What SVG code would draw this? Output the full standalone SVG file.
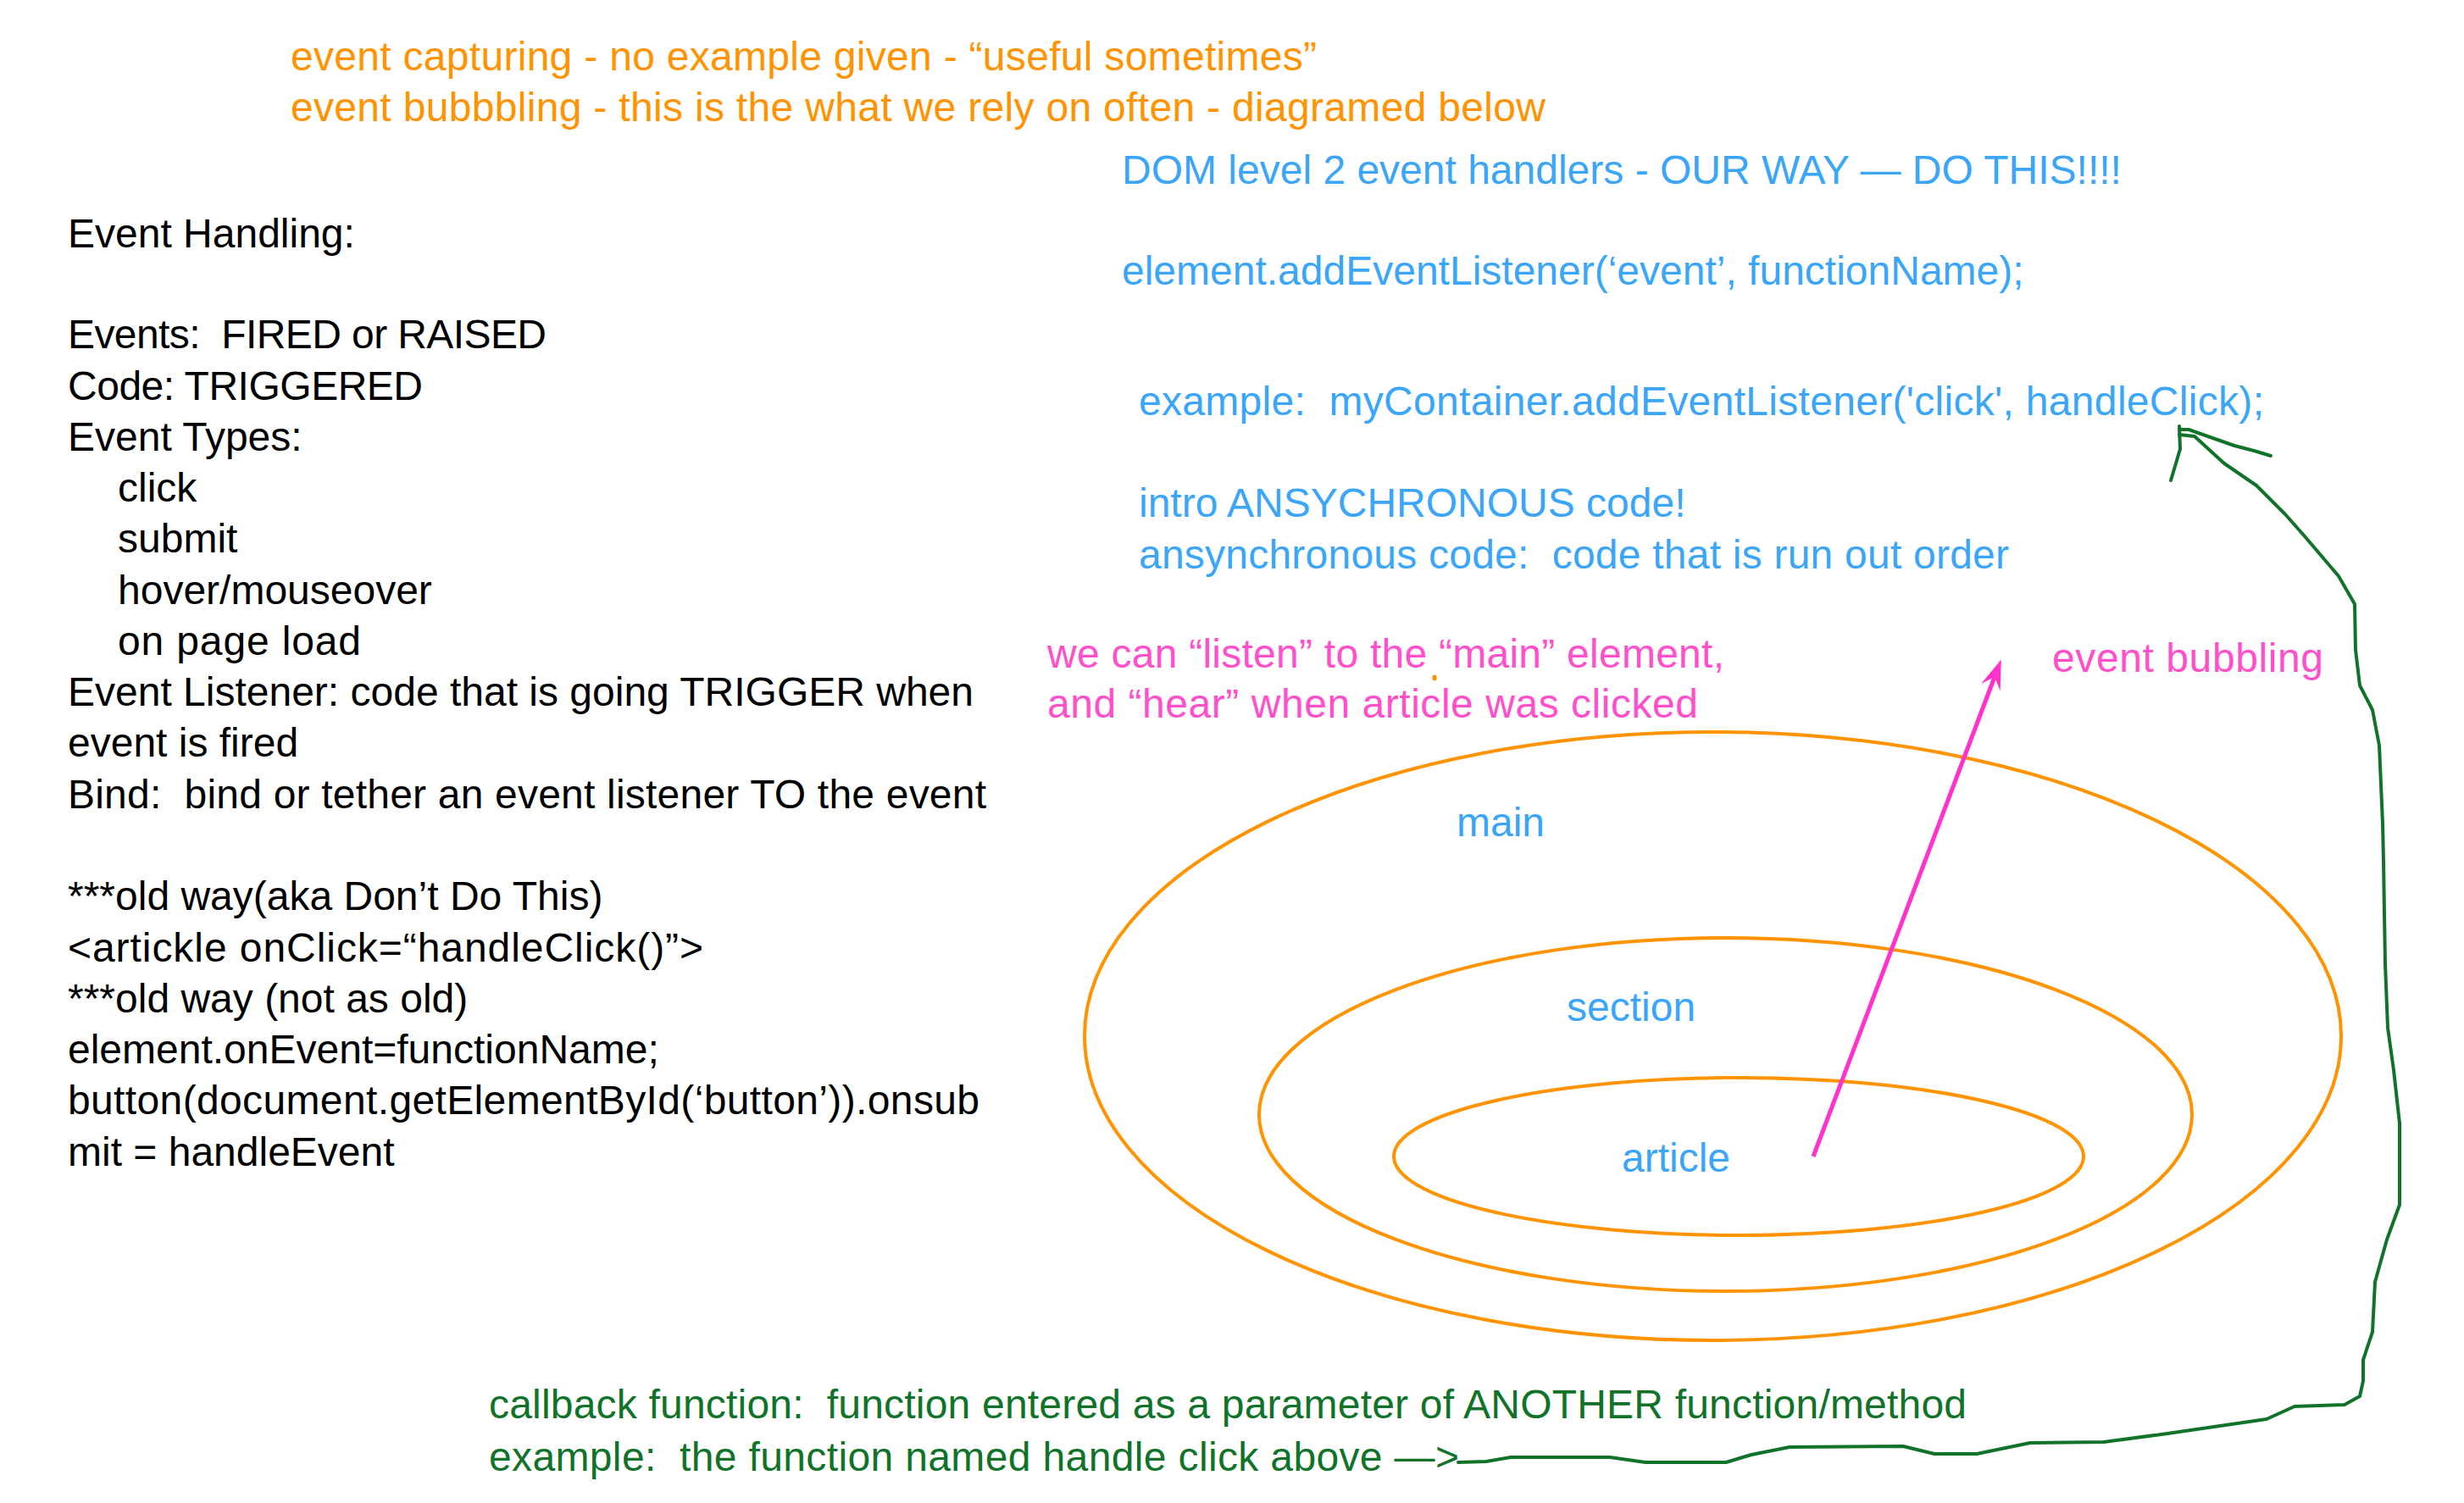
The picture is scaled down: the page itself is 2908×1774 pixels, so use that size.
<svg xmlns="http://www.w3.org/2000/svg" width="2908" height="1774" viewBox="0 0 2908 1774">
  <style>
    text { font-family: "Liberation Sans", Arial, sans-serif; font-size: 48px; white-space: pre; }
    .blk { fill: #000000; }
    .org { fill: #FF9300; }
    .blu { fill: #3BA6F7; }
    .pnk { fill: #FF4FCB; }
    .grn { fill: #11732A; }
    .ell { fill: none; stroke: #FF9300; stroke-width: 4; }
    .hand { fill: none; stroke: #11732A; stroke-width: 4; stroke-linejoin: round; stroke-linecap: round; }
  </style>
  <defs>
    <marker id="pinkHead" markerUnits="userSpaceOnUse" orient="auto" refX="0" refY="0" markerWidth="60" markerHeight="40" viewBox="-20 -20 60 40" overflow="visible">
      <path d="M22,0 L-13,-12 L0,0 L-13,12 Z" fill="#FF33CC"/>
    </marker>
  </defs>
  <rect width="2908" height="1774" fill="#FFFFFF"/>

  <g id="note-event-phases">
    <text class="org" x="343" y="83" textLength="1211">event capturing - no example given - “useful sometimes”</text>
    <text class="org" x="343" y="143" textLength="1481">event bubbbling - this is the what we rely on often - diagramed below</text>
  </g>

  <g id="note-event-handling">
    <text class="blk" x="80" y="292">Event Handling:</text>
    <text class="blk" x="80" y="411" textLength="565">Events:  FIRED or RAISED</text>
    <text class="blk" x="80" y="472" textLength="419">Code: TRIGGERED</text>
    <text class="blk" x="80" y="532">Event Types:</text>
    <text class="blk" x="139" y="592">click</text>
    <text class="blk" x="139" y="652">submit</text>
    <text class="blk" x="139" y="713">hover/mouseover</text>
    <text class="blk" x="139" y="773" textLength="287">on page load</text>
    <text class="blk" x="80" y="833">Event Listener: code that is going TRIGGER when</text>
    <text class="blk" x="80" y="893">event is fired</text>
    <text class="blk" x="80" y="954" textLength="1084">Bind:  bind or tether an event listener TO the event</text>
    <text class="blk" x="80" y="1074">***old way(aka Don’t Do This)</text>
    <text class="blk" x="80" y="1135" textLength="750">&lt;artickle onClick=“handleClick()”&gt;</text>
    <text class="blk" x="80" y="1195">***old way (not as old)</text>
    <text class="blk" x="80" y="1255">element.onEvent=functionName;</text>
    <text class="blk" x="80" y="1315" textLength="1076">button(document.getElementById(‘button’)).onsub</text>
    <text class="blk" x="80" y="1376">mit = handleEvent</text>
  </g>

  <g id="note-dom-level-2">
    <text class="blu" x="1324" y="217">DOM level 2 event handlers - OUR WAY — DO THIS!!!!</text>
    <text class="blu" x="1324" y="336">element.addEventListener(‘event’, functionName);</text>
    <text class="blu" x="1344" y="490" textLength="1328">example:  myContainer.addEventListener('click', handleClick);</text>
    <text class="blu" x="1344" y="610">intro ANSYCHRONOUS code!</text>
    <text class="blu" x="1344" y="671" textLength="1027">ansynchronous code:  code that is run out order</text>
  </g>

  <g id="note-listen">
    <text class="pnk" x="1236" y="788" textLength="799">we can “listen” to the “main” element,</text>
    <text class="pnk" x="1236" y="847" textLength="768">and “hear” when article was clicked</text>
    <ellipse cx="1693" cy="800" rx="2.5" ry="3.5" fill="#FF9300"/>
  </g>

  <g id="label-event-bubbling">
    <text class="pnk" x="2422" y="793" textLength="320">event bubbling</text>
  </g>

  <g id="node-main">
    <ellipse class="ell" cx="2021.5" cy="1223" rx="741.5" ry="359"/>
    <text class="blu" x="1719" y="987">main</text>
  </g>

  <g id="node-section">
    <ellipse class="ell" cx="2036.5" cy="1315.5" rx="550.5" ry="208.5"/>
    <text class="blu" x="1849" y="1205">section</text>
  </g>

  <g id="node-article">
    <ellipse class="ell" cx="2052" cy="1365" rx="407" ry="93"/>
    <text class="blu" x="1914" y="1383">article</text>
  </g>

  <g id="note-callback">
    <text class="grn" x="577" y="1674" textLength="1744">callback function:  function entered as a parameter of ANOTHER function/method</text>
    <text class="grn" x="577" y="1736" textLength="1145">example:  the function named handle click above —&gt;</text>
  </g>

  <g id="connectors">
    <line x1="2140" y1="1365" x2="2354" y2="799" stroke="#FF33CC" stroke-width="5" marker-end="url(#pinkHead)"/>
    <path class="hand" d="M1721,1726 L1754,1725 L1783,1720 L1900,1720 L1942,1726 L2037,1726 L2067,1717 L2112,1708 L2246,1707 L2283,1716 L2333,1716 L2396,1703 L2483,1702 L2558,1692 L2675,1675 L2708,1660 L2767,1658 L2785,1648 L2789,1630 L2789,1605 L2800,1572 L2803,1513 L2817,1463 L2832,1422 L2832,1326 L2825,1263 L2818,1213 L2815,1138 L2813,1017 L2812,972 L2808,880 L2800,838 L2785,809 L2780,767 L2779,713 L2760,680 L2720,633 L2697,607 L2663,573 L2625,547 L2590,515 L2572,513"/>
    <path class="hand" d="M2562,567 L2573,530 L2572,503"/>
    <path class="hand" d="M2573,507 L2583,507 L2637,526 L2660,532 L2680,538"/>
  </g>
</svg>
